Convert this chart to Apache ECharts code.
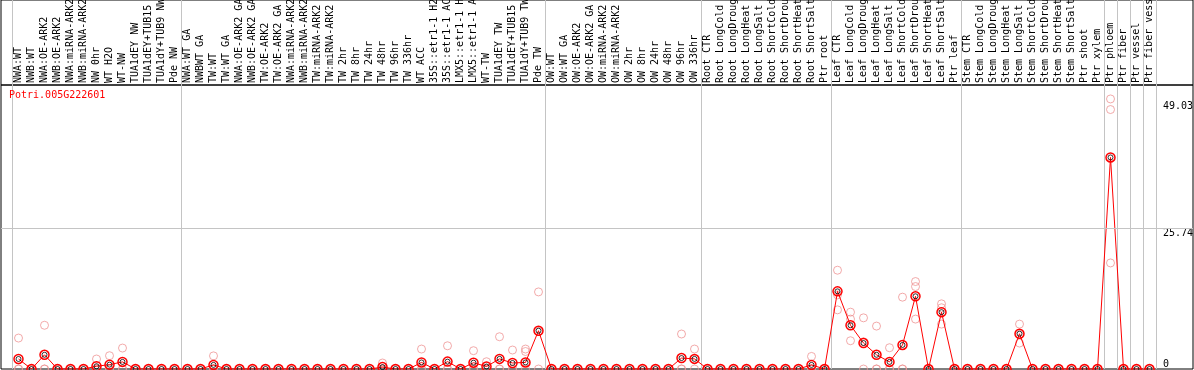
<!DOCTYPE html>
<html><head><meta charset="utf-8">
<script src="https://cdn.jsdelivr.net/npm/echarts@6/dist/echarts.min.js"></script>
<style>html,body{margin:0;padding:0;background:#fff}#c{width:1194px;height:370px}</style>
</head><body><div id="c"></div>
<script>
const geneId = 'Potri.005G222601';
const categories = [
  'NWA:WT','NWB:WT','NWA:OE-ARK2','NWB:OE-ARK2','NWA:miRNA-ARK2','NWB:miRNA-ARK2','NW 0hr','WT H2O','WT-NW','TUA1dEY NW',
  'TUA1dEY+TUB15 NW','TUA1dY+TUB9 NW','Pde NW','NWA:WT GA','NWBWT GA','TW:WT','TW:WT GA','NWA:OE-ARK2 GA','NWB:OE-ARK2 GA','TW:OE-ARK2',
  'TW:OE-ARK2 GA','NWA:miRNA-ARK2','NWB:miRNA-ARK2','TW:miRNA-ARK2','TW:miRNA-ARK2','TW 2hr','TW 8hr','TW 24hr','TW 48hr','TW 96hr',
  'TW 336hr','WT ACC','35S::etr1-1 H2O','35S::etr1-1 ACC','LMX5::etr1-1 H2O','LMX5::etr1-1 ACC','WT-TW','TUA1dEY TW','TUA1dEY+TUB15 TW','TUA1dY+TUB9 TW',
  'Pde TW','OW:WT','OW:WT GA','OW:OE-ARK2','OW:OE-ARK2 GA','OW:miRNA-ARK2','OW:miRNA-ARK2','OW 2hr','OW 8hr','OW 24hr',
  'OW 48hr','OW 96hr','OW 336hr','Root CTR','Root LongCold','Root LongDrought','Root LongHeat','Root LongSalt','Root ShortCold','Root ShortDrought',
  'Root ShortHeat','Root ShortSalt','Ptr root','Leaf CTR','Leaf LongCold','Leaf LongDrought','Leaf LongHeat','Leaf LongSalt','Leaf ShortCold','Leaf ShortDrought',
  'Leaf ShortHeat','Leaf ShortSalt','Ptr leaf','Stem CTR','Stem LongCold','Stem LongDrought','Stem LongHeat','Stem LongSalt','Stem ShortCold','Stem ShortDrought',
  'Stem ShortHeat','Stem ShortSalt','Ptr shoot','Ptr xylem','Ptr phloem','Ptr fiber','Ptr vessel','Ptr fiber vessel'
];
// indices of categories that start a new group (grey separators)
const groupStarts = [0, 13, 41, 53, 63, 73, 84, 85, 86, 87];

const means = [
  1.83,0,2.6,0,0,0,0.5,0.8,1.3,0,
  0,0,0,0,0,0.75,0,0,0,0,
  0,0,0,0,0,0,0,0,0.35,0,
  0,1.2,0,1.35,0,1.15,0.45,1.85,1.1,1.2,
  7.0,0,0,0,0,0,0,0,0,0,
  0,2.0,1.85,0,0,0,0,0,0,0,
  0,0.75,0,14.2,8.0,4.75,2.6,1.3,4.4,13.3,
  0,10.4,0,0,0,0,0,6.45,0,0,
  0,0,0,0,38.7,0,0,0
];
const rep1 = [
  5.66,0,8.0,0,0,0,1.83,2.43,3.83,0,
  0,0,0,0,0,2.4,0,0,0,0,
  0,0,0,0,0,0,0,0,1.1,0,
  0,3.65,0,4.25,0,3.35,1.33,5.9,3.47,3.65,
  14.1,0,0,0,0,0,0,0,0,0,
  0,6.4,3.65,0,0,0,0,0,0,0,
  0,2.3,0,18.07,10.4,9.36,7.85,3.89,13.14,16.0,
  0,11.92,0,0,0,0,0,8.21,0,0,
  0,0,0,0,49.4,0,0,0
];
const rep2 = [
  0,0,0,0,0,0,0,0,0,0,
  0,0,0,0,0,0,0,0,0,0,
  0,0,0,0,0,0,0,0,0,0,
  0,0,0,0,0,0,0,0,0,3.2,
  6.9,0,0,0,0,0,0,0,0,0,
  0,0,1.83,0,0,0,0,0,0,0,
  0,0,0,13.56,9.13,4.98,0,0,0,15.08,
  0,11.2,0,0,0,0,0,6.36,0,0,
  0,0,0,0,47.46,0,0,0
];
const rep3 = [
  0,0,0,0,0,0,0,0,0,0,
  0,0,0,0,0,0,0,0,0,0,
  0,0,0,0,0,0,0,0,0,0,
  0,0,0,0,0,0,0,0,0,0,
  0,0,0,0,0,0,0,0,0,0,
  0,0,0,0,0,0,0,0,0,0,
  0,0,0,10.82,5.17,0,0,0,0,9.13,
  0,8.21,0,0,0,0,0,4.75,0,0,
  0,0,0,0,19.4,0,0,0
];
const yUpperTicks = [25.74, 49.03];
const yZeroTick = [0];
const yMax = 51.95;
const gridLineValue = 25.74;

const FONT = 'DejaVu Sans Mono';
const GREY = '#c4c4c4';
const repData = [];
[rep1, rep2, rep3].forEach(r => r.forEach((v, i) => repData.push([i, v])));
const meanData = means.map((v, i) => [i, v]);
const isGroupStart = (idx) => groupStarts.indexOf(idx) >= 0;

const hiddenVal = (grid, extra) => Object.assign({type: 'value', gridIndex: grid, show: false, min: 0, max: 1}, extra || {});

const chart = echarts.init(document.getElementById('c'), null, {renderer: 'canvas'});
chart.setOption({
  animation: false,
  backgroundColor: '#fff',
  title: {
    text: geneId, left: 9, top: 90, padding: 0,
    textStyle: {color: '#ff0000', fontSize: 10, fontFamily: FONT, fontWeight: 'normal'}
  },
  grid: [
    {left: 12, right: 38, top: 85, bottom: 1, outerBoundsMode: 'none', containLabel: false},
    {left: 12, right: 38, top: 0, height: 85, outerBoundsMode: 'none', containLabel: false},
    {left: 1, right: 1, top: 85, bottom: 1, show: true, borderColor: '#000', borderWidth: 1, backgroundColor: 'transparent', outerBoundsMode: 'none'},
    {left: 1, right: 1, top: 0, height: 85, show: true, borderColor: '#000', borderWidth: 1, backgroundColor: 'transparent', outerBoundsMode: 'none'}
  ],
  xAxis: [
    {
      type: 'category', gridIndex: 0, data: categories, position: 'top', boundaryGap: true,
      axisLine: {show: false}, axisTick: {show: false},
      axisLabel: {interval: 0, rotate: 90, margin: 2, fontSize: 10, fontFamily: FONT, color: '#000', hideOverlap: false},
      splitLine: {show: true, interval: isGroupStart, lineStyle: {color: GREY, width: 1}}
    },
    {
      type: 'category', gridIndex: 1, data: categories, boundaryGap: true,
      axisLine: {show: false}, axisTick: {show: false}, axisLabel: {show: false},
      splitLine: {show: true, interval: isGroupStart, lineStyle: {color: GREY, width: 1}}
    },
    hiddenVal(2),
    hiddenVal(3)
  ],
  yAxis: [
    {
      type: 'value', gridIndex: 0, min: 0, max: yMax, position: 'right',
      axisLine: {show: false}, axisTick: {show: false}, splitLine: {show: false},
      axisLabel: {customValues: yUpperTicks, margin: 7, fontSize: 10, fontFamily: FONT, color: '#000',
        align: 'left', verticalAlign: 'top', formatter: v => v.toFixed(2)}
    },
    {
      type: 'value', gridIndex: 0, min: 0, max: yMax, position: 'right',
      axisLine: {show: false}, axisTick: {show: false}, splitLine: {show: false},
      axisLabel: {customValues: yZeroTick, margin: 7, fontSize: 10, fontFamily: FONT, color: '#000',
        align: 'left', verticalAlign: 'bottom', formatter: v => String(v)}
    },
    hiddenVal(1),
    hiddenVal(2, {max: yMax}),
    hiddenVal(3)
  ],
  series: [
    {
      type: 'line', xAxisIndex: 2, yAxisIndex: 3, data: [], silent: true, z: 1,
      markLine: {silent: true, symbol: 'none', label: {show: false},
        lineStyle: {color: GREY, width: 1, type: 'solid'},
        data: [{yAxis: gridLineValue}]}
    },
    {
      type: 'scatter', xAxisIndex: 0, yAxisIndex: 0, data: repData, symbol: 'circle', symbolSize: 8, z: 3,
      itemStyle: {color: 'rgba(0,0,0,0)', borderColor: '#ef9595', borderWidth: 1}
    },
    {
      type: 'line', xAxisIndex: 0, yAxisIndex: 0, data: meanData, symbol: 'circle', symbolSize: 9, z: 4,
      showAllSymbol: true,
      lineStyle: {color: '#ff0000', width: 1},
      itemStyle: {color: 'rgba(0,0,0,0)', borderColor: '#ff0000', borderWidth: 1.5}
    },
    {
      type: 'scatter', xAxisIndex: 0, yAxisIndex: 0, data: meanData, symbol: 'circle', symbolSize: 5, z: 5,
      itemStyle: {color: 'rgba(0,0,0,0)', borderColor: '#000', borderWidth: 1}
    }
  ]
});
</script>
</body></html>
